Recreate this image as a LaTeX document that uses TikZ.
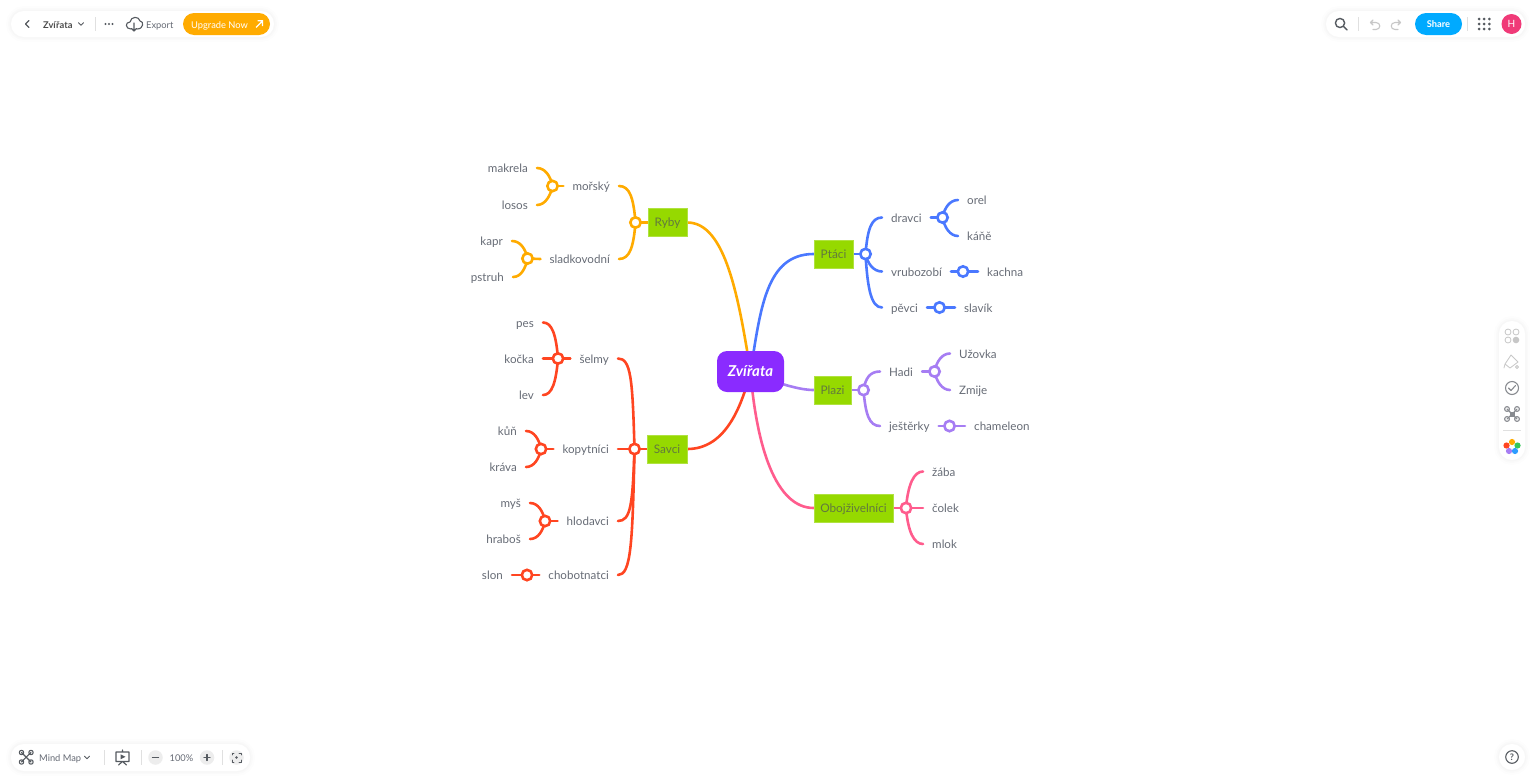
\documentclass[tikz,border=0pt]{standalone}
\usepackage{fontspec}
\setmainfont{Lato}
\usetikzlibrary{backgrounds}
\definecolor{orangeline}{HTML}{FFAB00}
\definecolor{redline}{HTML}{FF4521}
\definecolor{blueline}{HTML}{4A78FF}
\definecolor{purpleline}{HTML}{A67DF3}
\definecolor{pinkline}{HTML}{FF5C8D}
\definecolor{rootviolet}{HTML}{8A2BFF}
\definecolor{boxgreen}{HTML}{96D900}
\definecolor{leafgray}{HTML}{666B75}
\definecolor{iconback}{HTML}{555A60}
\definecolor{sharecyan}{HTML}{00AAFF}
\definecolor{avatarpink}{HTML}{F03A78}
\definecolor{petalgreen}{HTML}{34C759}
\definecolor{petalblue}{HTML}{2D9CFF}
% fork from a joint to a label on its left or right
\newcommand{\limbL}[4]{\draw[branch] (#1.center) .. controls +(-2,#3) and +(#4,0) .. (#2.east);}
\newcommand{\limbR}[4]{\draw[branch] (#1.center) .. controls +(2,#3) and +(-#4,0) .. (#2.west);}
\tikzset{
  leaf/.style={inner xsep=9pt, inner ysep=0pt, text height=10.5pt, text depth=1.5pt, font=\fontsize{11.6}{14}\selectfont, text=leafgray},
  topic/.style={fill=boxgreen, draw=boxgreen!75!white, line width=.6pt, minimum height=28pt, inner sep=0pt, text height=10pt, text depth=1.5pt, text=black!25!leafgray!70!boxgreen, font=\fontsize{11.8}{14}\selectfont},
  joint/.style={circle, fill=white, draw, line width=2.6pt, minimum size=10.4pt, inner sep=0pt},
  branch/.style={line width=2.6pt, line cap=round},
  bar/.style={fill=white, rounded corners=13pt,
    preaction={draw=black, line width=10pt, opacity=.007},
    preaction={draw=black, line width=6pt, opacity=.01},
    preaction={draw=black, line width=3pt, opacity=.01}},
  barlabel/.style={inner sep=0pt, text height=9pt, text depth=1pt, font=\fontsize{9.3}{11}\selectfont, text=leafgray},
  sep/.style={draw=black!12, line width=.7pt},
  icon/.style={draw=iconback, line width=1.1pt, line cap=round, line join=round},
  faint/.style={draw=black!22, line width=1.1pt, line cap=round, line join=round},
}
\begin{document}
\begin{tikzpicture}[x=1pt, y=-1pt]
  \useasboundingbox (0,0) rectangle (1536,782);
  % mittlerer Knoten
  \node[fill=rootviolet, rounded corners=10pt, minimum width=67pt, minimum height=41pt, inner sep=0pt, text=white,
    font=\fontsize{15}{17}\selectfont\bfseries\itshape] (zvirata) at (750.5,371.5) {Zvířata};
  % Themen
  \node[topic, minimum width=39pt] (ryby) at (667.5,222.5) {Ryby};
  \node[topic, minimum width=40pt] (savci) at (667,449) {Savci};
  \node[topic, minimum width=39pt] (ptaci) at (833.5,254) {Ptáci};
  \node[topic, minimum width=37pt] (plazi) at (832.5,390) {Plazi};
  \node[topic, minimum width=79pt] (obojzivelnici) at (853.5,508) {Obojživelníci};
  % Beschriftung links
  \foreach \name/\x/\y/\word in {morsky/619/186/mořský, sladkovodni/619/259/sladkovodní, makrela/537/168/makrela,
      losos/537/205/losos, kapr/512/241/kapr, pstruh/513/277/pstruh, selmy/618/358.5/šelmy, kopytnici/618/449/kopytníci,
      hlodavci/618/521/hlodavci, chobotnatci/618/575/chobotnatci, pes/543/322.5/pes, kocka/543/358.5/kočka, lev/543/395/lev,
      kun/526/431/kůň, krava/526/467/kráva, mys/530/503/myš, hrabos/530/539/hraboš, slon/512/575/slon}
    \node[leaf, anchor=east] (\name) at (\x,\y) {\word};
  % Beschriftung rechts
  \foreach \name/\x/\y/\word in {dravci/882/217.5/dravci, vrubozobi/882/271.5/vrubozobí, pevci/882/307.5/pěvci, orel/958/200/orel,
      kane/958/236/káňě, kachna/978/271.5/kachna, slavik/955/307.5/slavík, hadi/880/371.5/Hadi, jesterky/880/426/ještěrky,
      uzovka/950/353.5/Užovka, zmije/950/390/Zmije, chameleon/965/426/chameleon, zaba/923/471.5/žába, colek/923/508/čolek, mlok/923/544/mlok}
    \node[leaf, anchor=west] (\name) at (\x,\y) {\word};
  % Verbindungen und Gelenke
  \foreach \name/\x/\y/\col in {jryby/635.5/222.5/orangeline, jmorsky/552.5/186/orangeline, jsladko/527.5/258.5/orangeline,
      jsavci/634.5/449/redline, jselmy/558/358.5/redline, jkopyt/541/449/redline, jhlod/545/521/redline, jchobot/527/575/redline,
      jptaci/865.5/254/blueline, jdravci/942.5/217.5/blueline, jvrubo/963/271.5/blueline, jpevci/939.5/307.5/blueline,
      jplazi/863.5/390/purpleline, jhadi/934.5/371.5/purpleline, jjester/949.5/426/purpleline, jobojz/906/508/pinkline}
    \node[joint, draw=\col] (\name) at (\x,\y) {};
  \begin{scope}[on background layer]
    \begin{scope}[orangeline]
      \draw[branch] (ryby.east) .. controls +(38,0) and +(-12,-75) .. (zvirata.center);
      \draw[branch] (jryby.center) -- (ryby.west);
      \limbL{jryby}{morsky}{-24}{11}
      \limbL{jryby}{sladkovodni}{24}{11}
      \draw[branch] (jmorsky.center) -- (morsky.west);
      \limbL{jmorsky}{makrela}{-10}{8}
      \limbL{jmorsky}{losos}{10}{8}
      \draw[branch] (jsladko.center) -- (sladkovodni.west);
      \limbL{jsladko}{kapr}{-10}{8}
      \limbL{jsladko}{pstruh}{10}{8}
    \end{scope}
    \begin{scope}[redline]
      \draw[branch] (savci.east) .. controls +(36,0) and +(-10,40) .. (zvirata.center);
      \draw[branch] (jsavci.center) -- (savci.west);
      \draw[branch] (jsavci.center) -- (kopytnici.east);
      \limbL{jsavci}{selmy}{-70}{13}
      \limbL{jsavci}{hlodavci}{55}{13}
      \limbL{jsavci}{chobotnatci}{95}{13}
      \draw[branch] (jselmy.center) -- (selmy.west);
      \draw[branch] (jselmy.center) -- (kocka.east);
      \limbL{jselmy}{pes}{-24}{9}
      \limbL{jselmy}{lev}{24}{9}
      \draw[branch] (jkopyt.center) -- (kopytnici.west);
      \limbL{jkopyt}{kun}{-10}{8}
      \limbL{jkopyt}{krava}{10}{8}
      \draw[branch] (jhlod.center) -- (hlodavci.west);
      \limbL{jhlod}{mys}{-10}{8}
      \limbL{jhlod}{hrabos}{10}{8}
      \draw[branch] (slon.east) -- (chobotnatci.west);
    \end{scope}
    \begin{scope}[blueline]
      \draw[branch] (zvirata.center) .. controls +(10,-62) and +(-48,0) .. (ptaci.west);
      \draw[branch] (ptaci.east) -- (jptaci.center);
      \limbR{jptaci}{dravci}{-24}{11}
      \limbR{jptaci}{vrubozobi}{9}{9}
      \limbR{jptaci}{pevci}{34}{11}
      \draw[branch] (dravci.east) -- (jdravci.center);
      \limbR{jdravci}{orel}{-10}{8}
      \limbR{jdravci}{kane}{10}{8}
      \draw[branch] (vrubozobi.east) -- (kachna.west);
      \draw[branch] (pevci.east) -- (slavik.west);
    \end{scope}
    \begin{scope}[purpleline]
      \draw[branch] (zvirata.center) .. controls +(26,12) and +(-14,0) .. (plazi.west);
      \draw[branch] (plazi.east) -- (jplazi.center);
      \limbR{jplazi}{hadi}{-12}{10}
      \limbR{jplazi}{jesterky}{24}{11}
      \draw[branch] (hadi.east) -- (jhadi.center);
      \limbR{jhadi}{uzovka}{-10}{8}
      \limbR{jhadi}{zmije}{10}{8}
      \draw[branch] (jesterky.east) -- (chameleon.west);
    \end{scope}
    \begin{scope}[pinkline]
      \draw[branch] (zvirata.center) .. controls +(6,75) and +(-38,0) .. (obojzivelnici.west);
      \draw[branch] (obojzivelnici.east) -- (colek.west);
      \limbR{jobojz}{zaba}{-24}{9}
      \limbR{jobojz}{mlok}{24}{9}
    \end{scope}
  \end{scope}
  % Leiste oben links
  \path[bar] (11,11) rectangle (274,37);
  \draw[icon] (29,20.5) -- (25.5,24) -- (29,27.5);
  \node[barlabel, anchor=west, font=\fontsize{9.3}{11}\selectfont\bfseries, text=black!70] (title) at (43,24) {Zvířata};
  \draw[icon, line width=.9pt] (78.5,22.8) -- (81,25.2) -- (83.5,22.8);
  \draw[sep] (95.5,17) -- (95.5,31);
  \foreach \x in {105.5,109,112.5} \fill[iconback] (\x,24) circle (1.2pt);
  \draw[icon] (131,29) .. controls (125,29) and (125,22) .. (130,22) .. controls (131,16) and (139,16) .. (140,21) .. controls (144,21) and (144,29) .. (137,29);
  \draw[icon] (134,23) -- (134,31) (131.5,28.5) -- (134,31) -- (136.5,28.5);
  \node[barlabel, anchor=west] (export) at (146,24) {Export};
  \node[fill=orangeline, rounded corners=11pt, minimum width=87pt, minimum height=22pt, inner sep=0pt] (upgradepill) at (226.5,24) {};
  \node[barlabel, anchor=west, text=white] (upgrade) at (191,24) {Upgrade Now};
  \draw[white, line width=1.1pt] (256,27.5) -- (262.5,21) (257.5,20.7) -- (262.5,20.7) -- (262.5,26);
  % Leiste oben rechts
  \path[bar] (1326,11) rectangle (1525,37);
  \draw[icon, line width=1.4pt] (1340,23) circle (4.6pt) (1343.5,26.5) -- (1347,30);
  \draw[sep] (1358,17) -- (1358,31);
  \draw[faint] (1373,20) -- (1370.5,22.5) -- (1373,25) (1370.5,22.5) -- (1376,22.5) .. controls (1381,22.5) and (1381,29.5) .. (1376,29.5) -- (1373,29.5);
  \draw[faint] (1398,20) -- (1400.5,22.5) -- (1398,25) (1400.5,22.5) -- (1395,22.5) .. controls (1390,22.5) and (1390,29.5) .. (1395,29.5) -- (1398,29.5);
  \node[fill=sharecyan, rounded corners=11pt, minimum width=47pt, minimum height=22pt, inner sep=0pt, text=white, font=\fontsize{9.3}{11}\selectfont\bfseries] (share) at (1438.5,24) {Share};
  \draw[sep] (1467.5,17) -- (1467.5,31);
  \foreach \x in {1479,1484.2,1489.4} \foreach \y in {19,24,29} \fill[iconback] (\x,\y) circle (1.5pt);
  \node[circle, fill=avatarpink, minimum size=20pt, inner sep=0pt, text=white, font=\fontsize{10}{12}\selectfont] (avatar) at (1511.5,24) {H};
  % Leiste unten links
  \path[bar] (11,744) rectangle (250,771);
  \foreach \x/\y in {21.5/752.5,31/752.5,21.5/762,31/762} {
    \draw[icon] (\x,\y) circle (2.2pt);
    \draw[icon] (\x,\y) -- (26.2,757.2);
  }
  \node[barlabel, anchor=west] (mindmap) at (39,757.5) {Mind Map};
  \draw[icon, line width=.9pt] (84.5,756.3) -- (87,758.7) -- (89.5,756.3);
  \draw[sep] (104,750) -- (104,765);
  \draw[icon] (116,752) rectangle (129,761.5) (122.5,752) -- (122.5,750) (122.5,761.5) -- (118.5,765) (122.5,761.5) -- (126.5,765);
  \fill[iconback] (120.5,754.3) -- (125.5,756.8) -- (120.5,759.3) -- cycle;
  \draw[sep] (141,750) -- (141,765);
  \node[circle, fill=black!7, minimum size=14.5pt, inner sep=0pt] (zoomout) at (155.5,757.5) {};
  \draw[icon] (152.5,757.5) -- (158.5,757.5);
  \node[barlabel] (zoomlevel) at (181.5,757.5) {100\%};
  \node[circle, fill=black!7, minimum size=14.5pt, inner sep=0pt] (zoomin) at (207,757.5) {};
  \draw[icon] (204,757.5) -- (210,757.5) (207,754.5) -- (207,760.5);
  \draw[sep] (222,750) -- (222,765);
  \node[circle, fill=black!7, minimum size=14.5pt, inner sep=0pt] (fitview) at (236.5,757.5) {};
  \draw[icon, line width=.8pt] (232,755) -- (232,753) -- (234,753) (239,753) -- (241,753) -- (241,755) (241,760) -- (241,762) -- (239,762) (234,762) -- (232,762) -- (232,760);
  \fill[iconback] (236.5,757.5) circle (1.3pt);
  % Leiste rechts
  \path[bar] (1499,321) rectangle (1525,460);
  \foreach \x/\y in {1508/332,1516/332,1508/340} \draw[faint, line width=.8pt] (\x,\y) circle (3pt);
  \fill[black!22] (1516,340) circle (3.3pt);
  \draw[faint, line width=.8pt] (1505,364) -- (1511,355) -- (1518,362) -- (1510,368) -- cycle (1505,364) -- (1504,368);
  \draw[faint, line width=.8pt] (1517,367) circle (1.5pt);
  \draw[icon, draw=iconback!70!white] (1512,388) circle (6.5pt) (1508.5,388) -- (1511,390.5) -- (1515.5,385.5);
  \foreach \x/\y in {1507/409,1517/409,1507/419,1517/419} {
    \draw[icon, draw=iconback!70!white] (\x,\y) circle (2.4pt);
    \draw[icon, draw=iconback!70!white] (\x,\y) -- (1512,414);
  }
  \fill[iconback!70!white] (1509.5,411.5) rectangle (1514.5,416.5);
  \draw[sep] (1503,430) -- (1521,430);
  \foreach \x/\y/\col in {1512/442/orangeline, 1506.5/445.5/redline, 1517.5/445.5/petalgreen, 1509/451/purpleline, 1515/451/petalblue}
    \fill[\col] (\x,\y) circle (3.1pt);
  % Hilfe
  \path[bar] (1499,744) rectangle (1525,770);
  \draw[icon] (1512,757) circle (6.3pt);
  \node[inner sep=0pt, text=iconback, font=\fontsize{9}{10}\selectfont\bfseries] (help) at (1512,757) {?};
\end{tikzpicture}
\end{document}
